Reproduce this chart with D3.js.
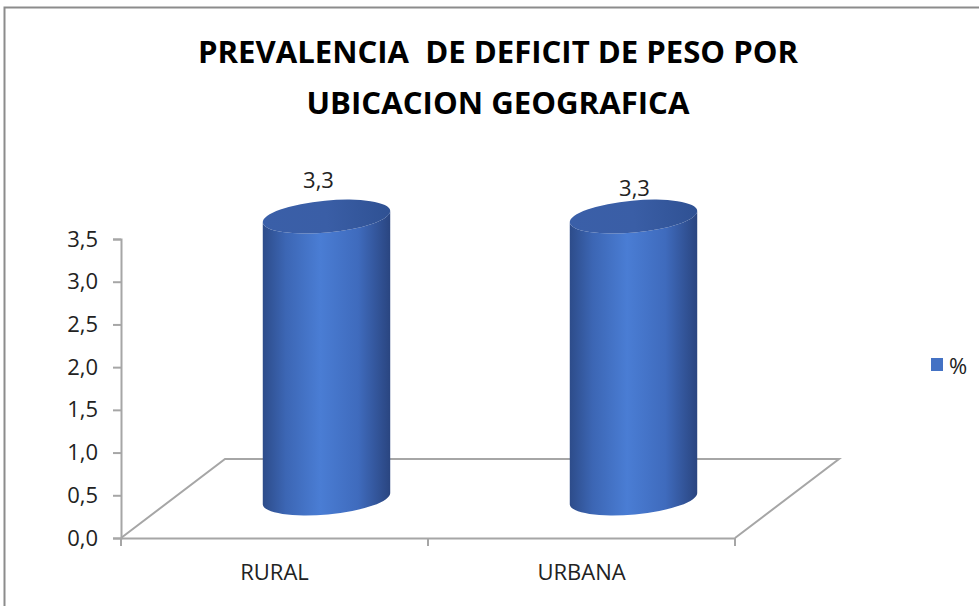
<!DOCTYPE html>
<html>
<head>
<meta charset="utf-8">
<script src="https://cdn.jsdelivr.net/npm/d3@7"></script>
<style>
  body { margin: 0; background: #fff; }
  text { font-family: "Open Sans", sans-serif; fill: #222; }
</style>
</head>
<body>
<script>
var width = 979,
    height = 606;

// data
var categories = ['RURAL', 'URBANA'];
var values = [3.3, 3.3];
var valueLabels = ['3,3', '3,3'];
var yTicks = [0, 0.5, 1.0, 1.5, 2.0, 2.5, 3.0, 3.5];
var seriesName = '%';
var titleLines = ['PREVALENCIA  DE DEFICIT DE PESO POR', 'UBICACION GEOGRAFICA'];

var plot = { left: 121, right: 735, top: 239, bottom: 538 };
var depth = { dx: 104, dy: -79 };
var gridColor = '#a6a6a6';
var labelSize = '22px';

var svg = d3.select('body')
  .append('svg')
  .attr('width', width)
  .attr('height', height);

var defs = svg.append('defs');
var bodyGrad = defs.append('linearGradient')
  .attr('id', 'cylBody')
  .attr('x1', '0%').attr('x2', '100%').attr('y1', '0%').attr('y2', '0%');
bodyGrad.append('stop').attr('offset', '0%').attr('stop-color', '#2d4c8a');
bodyGrad.append('stop').attr('offset', '18%').attr('stop-color', '#3c66b4');
bodyGrad.append('stop').attr('offset', '45%').attr('stop-color', '#4a7dd4');
bodyGrad.append('stop').attr('offset', '75%').attr('stop-color', '#3f6bbd');
bodyGrad.append('stop').attr('offset', '100%').attr('stop-color', '#2a4580');

var topGrad = defs.append('linearGradient')
  .attr('id', 'cylTop')
  .attr('x1', '0%').attr('x2', '100%').attr('y1', '0%').attr('y2', '0%');
topGrad.append('stop').attr('offset', '0%').attr('stop-color', '#3a5fa8');
topGrad.append('stop').attr('offset', '50%').attr('stop-color', '#3a5ea6');
topGrad.append('stop').attr('offset', '100%').attr('stop-color', '#2f5193');

// outer frame
svg.append('path')
  .attr('d', 'M4.5,' + height + ' L4.5,7.5 L' + width + ',7.5')
  .attr('fill', 'none')
  .attr('stroke', '#8c8c8c')
  .attr('stroke-width', 2);

// title
svg.selectAll('.title')
  .data(titleLines)
  .enter()
  .append('text')
  .attr('class', 'title')
  .attr('x', 498)
  .attr('y', (d, i) => 63 + i * 51)
  .attr('text-anchor', 'middle')
  .attr('textLength', (d, i) => i == 0 ? 600 : 383)
  .attr('lengthAdjust', 'spacingAndGlyphs')
  .style('font-size', '30px')
  .style('font-weight', 'bold')
  .style('fill', '#000')
  .style('white-space', 'pre')
  .text(d => d);

var xScale = d3.scaleBand()
  .domain(categories)
  .range([plot.left, plot.right]);

var yScale = d3.scaleLinear()
  .domain([0, 3.5])
  .range([plot.bottom, plot.top]);

// floor
var floor = [
  [plot.left, plot.bottom],
  [plot.left + depth.dx, plot.bottom + depth.dy],
  [plot.right + depth.dx, plot.bottom + depth.dy],
  [plot.right, plot.bottom]
];
svg.append('path')
  .attr('d', d3.line()(floor))
  .attr('fill', 'none')
  .attr('stroke', gridColor)
  .attr('stroke-width', 2);

// y axis
var yAxis = d3.axisLeft(yScale)
  .tickValues(yTicks)
  .tickSize(8)
  .tickPadding(15)
  .tickFormat(d => d3.format('.1f')(d).replace('.', ','));

var gy = svg.append('g')
  .attr('transform', 'translate(' + plot.left + ',0)')
  .call(yAxis);
gy.select('.domain').attr('stroke', gridColor).attr('stroke-width', 2);
gy.selectAll('line').attr('stroke', gridColor).attr('stroke-width', 2);
gy.selectAll('text').style('font-size', labelSize).style('font-family', '"Open Sans", sans-serif').attr('fill', '#222');

// x axis
var xAxis = d3.axisBottom(xScale)
  .tickSize(0)
  .tickPadding(26);
var gx = svg.append('g')
  .attr('transform', 'translate(0,' + plot.bottom + ')')
  .call(xAxis);
gx.select('.domain').attr('stroke', gridColor).attr('stroke-width', 2);
gx.selectAll('text').style('font-size', labelSize).style('font-family', '"Open Sans", sans-serif').attr('fill', '#222');
// category separators
gx.selectAll('.sep')
  .data([plot.left, xScale(categories[1]), plot.right])
  .enter()
  .append('line')
  .attr('x1', d => d).attr('x2', d => d)
  .attr('y1', 0).attr('y2', 8)
  .attr('stroke', gridColor)
  .attr('stroke-width', 2);

// cylinders
var rx = 64, ry = 16;
var tilt = -5.3;
var t = tilt * Math.PI / 180;
var ex = rx * Math.cos(t), ey = rx * Math.sin(t);

var bars = svg.selectAll('.bar')
  .data(values)
  .enter()
  .append('g')
  .attr('class', 'bar')
  .attr('transform', (d, i) => 'translate(' + (xScale(categories[i]) + xScale.bandwidth() / 2 + depth.dx / 2) + ',0)');

bars.append('path')
  .attr('d', d => {
    var yb = yScale(0) + depth.dy / 2;
    var yt = yScale(d) + depth.dy / 2;
    return 'M' + (-ex) + ',' + (yt - ey) +
      ' L' + (-ex) + ',' + (yb - ey) +
      ' A' + rx + ',' + ry + ' ' + tilt + ' 0 0 ' + ex + ',' + (yb + ey) +
      ' L' + ex + ',' + (yt + ey) +
      ' A' + rx + ',' + ry + ' ' + tilt + ' 0 1 ' + (-ex) + ',' + (yt - ey) + 'Z';
  })
  .attr('fill', 'url(#cylBody)');

bars.append('ellipse')
  .attr('cx', 0)
  .attr('cy', 0)
  .attr('rx', rx)
  .attr('ry', ry)
  .attr('transform', d => 'translate(0,' + (yScale(d) + depth.dy / 2) + ') rotate(' + tilt + ')')
  .attr('fill', 'url(#cylTop)');

bars.append('text')
  .attr('x', (d, i) => i == 0 ? -8 : 1)
  .attr('y', (d, i) => yScale(d) + depth.dy / 2 - (i == 0 ? 29 : 21))
  .attr('text-anchor', 'middle')
  .style('font-size', labelSize)
  .text((d, i) => valueLabels[i]);

// legend
svg.append('rect')
  .attr('x', 931)
  .attr('y', 358)
  .attr('width', 12)
  .attr('height', 13)
  .attr('fill', '#4472c4');
svg.append('text')
  .attr('x', 949)
  .attr('y', 374)
  .style('font-size', labelSize)
  .text(seriesName);
</script>
</body>
</html>
